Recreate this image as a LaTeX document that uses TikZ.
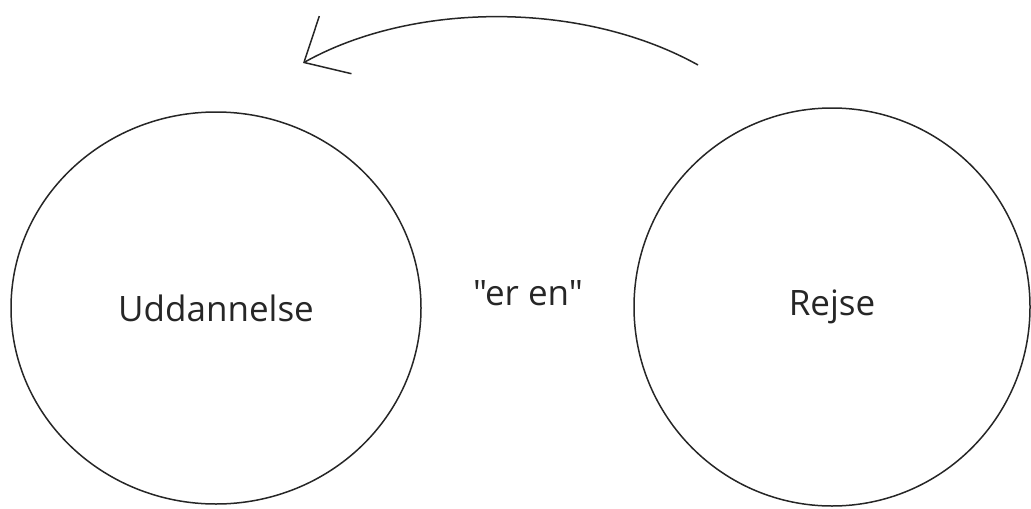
\documentclass[tikz,border=0pt]{standalone}
\usepackage{fontspec}
\setmainfont{Open Sans}[Ligatures=TeXOff]
\usepackage{tikz}
\usetikzlibrary{arrows.meta, shapes.geometric}

\begin{document}
\begin{tikzpicture}[x=0.5pt,y=0.5pt,
        begreb/.style={ellipse,draw=black!85,line width=0.75pt,inner sep=0pt,
            font=\fontsize{17.5}{20}\selectfont,text=black!85},
        relation/.style={draw=black!85,line width=0.75pt,
            -{Straight Barb[length=18pt,width=33pt,line width=0.75pt]}}]
        \useasboundingbox (0,0) rectangle (1031,-508);
        \node (uddannelse) at (216,-308) [begreb,minimum width=205pt,minimum height=196pt] {Uddannelse};
        \node (rejse) at (832,-307) [begreb,minimum width=198pt,minimum height=199pt] {Rejse};
        \node (eren) at (528,-293) [font=\fontsize{17.5}{20}\selectfont,text=black!85] {"er en"};
        % the arrow floats above the two concepts
        \coordinate (fra) at (698,-65);
        \coordinate (til) at (303,-63);
        \draw [relation] (fra) .. controls (583,-1) and (414,-1) .. (til);
    \end{tikzpicture}
\end{document}
